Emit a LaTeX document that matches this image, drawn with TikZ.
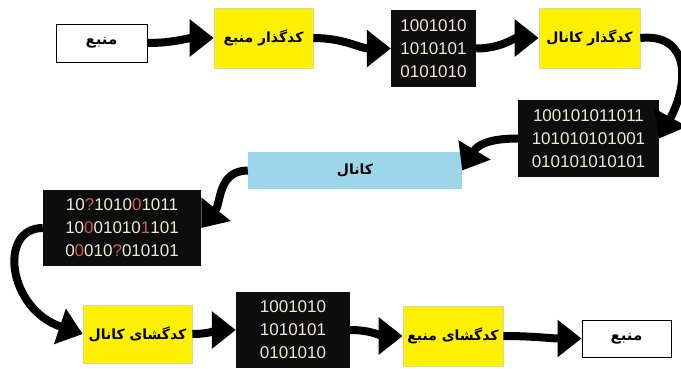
\documentclass[tikz,border=0pt]{standalone}
\usepackage{fontspec}
\usetikzlibrary{arrows.meta}
\TeXXeTstate=1
\newfontfamily\arabicfont[Script=Arabic]{DejaVu Sans}
\newfontfamily\bitfont{Liberation Sans}
\definecolor{ylw}{HTML}{FFEF00}
\definecolor{ylwborder}{HTML}{D8D8A0}
\definecolor{chanblue}{HTML}{9DD6E8}
\definecolor{bitcol}{HTML}{EEE8D6}
\definecolor{bitred}{HTML}{C8604A}
\newcommand{\rd}[1]{\textcolor{bitred}{#1}}
\newcommand{\fa}[1]{{\arabicfont\bfseries\beginR #1\endR}}
\tikzset{
  whitebox/.style={draw=black, line width=1pt, fill=white, inner sep=0pt, font=\fontsize{15}{17}\selectfont},
  yellowbox/.style={draw=ylwborder, line width=0.6pt, fill=ylw, inner sep=0pt, font=\fontsize{14}{16}\selectfont},
  bluebox/.style={fill=chanblue, inner sep=0pt, font=\fontsize{14}{16}\selectfont},
  bitbox/.style={fill=black!95, inner sep=0pt, align=center, text=bitcol, font=\bitfont\fontsize{17}{23}\selectfont},
  arr/.style={line width=8pt, -{Triangle[length=24pt 0 0,width=36pt 0 0]}}
}
\begin{document}
\begin{tikzpicture}[x=1pt,y=-1pt]
\useasboundingbox (0,0) rectangle (681,368);
\node[whitebox, minimum width=91pt, minimum height=38pt] (src) at (101.5,43) {\fa{منبع}};
\node[yellowbox, minimum width=99pt, minimum height=60pt] (enc1) at (263.5,38) {\raisebox{4pt}{\fa{کدگذار منبع}}};
\node[bitbox, minimum width=85pt, minimum height=77pt] (bits1) at (433.5,48.5) {1001010\\1010101\\0101010};
\node[yellowbox, minimum width=101pt, minimum height=60pt] (enc2) at (589.5,38) {\raisebox{4pt}{\fa{کدگذار کانال}}};
\node[bitbox, minimum width=141pt, minimum height=77pt] (bits2) at (588.5,138.5) {100101011011\\101010101001\\010101010101};
\node[bluebox, minimum width=214pt, minimum height=37pt] (chan) at (355,170.5) {\fa{کانال}};
\node[bitbox, minimum width=158pt, minimum height=76pt] (bits3) at (122,228) {10\rd{?}1010\rd{0}1011\\10\rd{0}01010\rd{1}101\\0\rd{0}010\rd{?}010101};
\node[yellowbox, minimum width=109pt, minimum height=58pt] (dec1) at (137.5,334) {\fa{کدگشای کانال}};
\node[bitbox, minimum width=114pt, minimum height=76pt] (bits4) at (293,330) {1001010\\1010101\\0101010};
\node[yellowbox, minimum width=100pt, minimum height=60pt] (dec2) at (453,336) {\raisebox{4pt}{\fa{کدگشای منبع}}};
\node[whitebox, minimum width=89pt, minimum height=37pt] (dst) at (626.5,338.5) {\fa{منبع}};

\draw[arr] (src.east) to[out=0,in=180] (enc1.west);
\draw[arr] (enc1.east) to[out=0,in=180] (bits1.west);
\draw[arr] (bits1.east) to[out=0,in=180] (enc2.west);
\draw[arr] (enc2.east) .. controls +(50,-5) and +(30,-55) .. (bits2.east);
\draw[arr] (bits2.west) .. controls +(-30,0) and +(15,-25) .. (chan.east);
\draw[arr] (chan.west) .. controls +(-30,0) and +(20,-25) .. (bits3.east);
\draw[arr] (bits3.west) .. controls +(-45,0) and +(-75,-25) .. (dec1.west);
\draw[arr] (dec1.east) to[out=0,in=180] (bits4.west);
\draw[arr] (bits4.east) to[out=0,in=180] (dec2.west);
\draw[arr] (dec2.east) to[out=0,in=180] (dst.west);
\end{tikzpicture}
\end{document}
